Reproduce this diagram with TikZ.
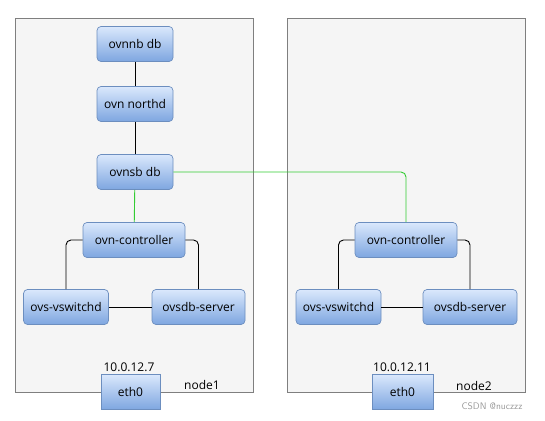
\documentclass[tikz,border=0pt]{standalone}
\usepackage{fontspec}
\setmainfont{Open Sans}
\usepackage{tikz}
\usetikzlibrary{arrows,positioning}
\definecolor{hostfill}{HTML}{F5F5F5}
\definecolor{hostline}{HTML}{7F7F7F}
\definecolor{svctop}{HTML}{DAE8FC}
\definecolor{svcbot}{HTML}{7EA6E0}
\definecolor{svcline}{HTML}{6C8EBF}
\definecolor{sbgreen}{HTML}{33CC33}
\tikzset{
    host/.style={
      rectangle,
      draw=hostline, fill=hostfill, line width=0.9pt,
      minimum width=238pt, minimum height=374pt,
      inner sep=0pt,
    },
    svc/.style={
      rectangle,
      rounded corners=4pt,
      draw=svcline, line width=0.7pt,
      top color=svctop, bottom color=svcbot,
      minimum height=35pt,
      inner sep=1pt,
      text centered,
      font=\fontsize{12}{14}\selectfont,
    },
    nic/.style={
      svc, rounded corners=0pt,
      minimum width=59pt,
    },
    hv/.style={to path={-| (\tikztotarget)}},
}

\begin{document}
\begin{tikzpicture}[x=1pt,y=-1pt,line width=0.9pt]

    \useasboundingbox (0,0) rectangle (545,420);

    % hosts
    \node[host] (hostA) at (134,205) {};
    \node[host] (hostB) at (406.5,205) {};

    % node1
    \node[svc, minimum width=76pt] (nbA) at (135,44) {ovnnb db};
    \node[svc, minimum width=76pt] (northdA) at (135,104) {ovn northd};
    \node[svc, minimum width=76pt] (sbA) at (135,172) {ovnsb db};
    \node[svc, minimum width=102pt] (ctrlA) at (134,240) {ovn-controller};
    \node[svc, minimum width=85pt] (vsA) at (66,307) {ovs-vswitchd};
    \node[svc, minimum width=93pt] (dbA) at (198.5,307) {ovsdb-server};
    \node[nic] (ethA) at (130.5,392) {eth0};
    \node[font=\fontsize{12}{14}\selectfont] (ipA) at (129,367) {10.0.12.7};
    \node[font=\fontsize{12}{14}\selectfont] (nameA) at (202,385) {node1};

    % node2
    \node[svc, minimum width=102pt] (ctrlB) at (406,240) {ovn-controller};
    \node[svc, minimum width=85pt] (vsB) at (338.5,307) {ovs-vswitchd};
    \node[svc, minimum width=94pt] (dbB) at (470,307) {ovsdb-server};
    \node[nic, minimum width=61pt] (ethB) at (402.5,392) {eth0};
    \node[font=\fontsize{12}{14}\selectfont] (ipB) at (402,367) {10.0.12.11};
    \node[font=\fontsize{12}{14}\selectfont] (nameB) at (474,386) {node2};

    \node[text=black!40, font=\sffamily\fontsize{9.5}{10}\selectfont] (mark) at (492,406) {CSDN @nuczzz};

    \path[rounded corners=5pt]

    (nbA) edge (northdA)
    (northdA) edge (sbA)

    (sbA) edge[sbgreen] (ctrlA)
    (sbA.east) edge[sbgreen, hv] (ctrlB.north)

    (ctrlA.west) edge[hv] (vsA.north)
    (ctrlA.east) edge[hv] (dbA.north)
    (vsA) edge (dbA)

    (ctrlB.west) edge[hv] (vsB.north)
    (ctrlB.east) edge[hv] (dbB.north)
    (vsB) edge (dbB)

    ;
  \end{tikzpicture}
\end{document}
